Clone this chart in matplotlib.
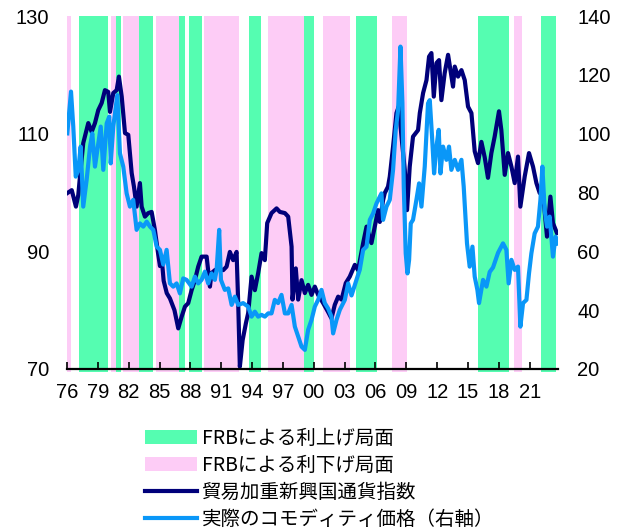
import matplotlib
matplotlib.use("Agg")
import matplotlib.pyplot as plt
from matplotlib.patches import Patch
from matplotlib.lines import Line2D

# Trade-weighted emerging-market currency index (left axis)
em_years = [1976.03, 1976.46, 1976.87, 1977.10, 1977.26, 1977.58, 1978.07, 1978.40, 1978.72,
            1979.04, 1979.37, 1979.69, 1980.01, 1980.18, 1980.50, 1980.83, 1981.05, 1981.32,
            1981.64, 1981.96, 1982.29, 1982.51, 1982.77, 1983.09, 1983.26, 1983.58, 1983.90,
            1984.23, 1984.55, 1984.87, 1985.04, 1985.20, 1985.40, 1985.70, 1986.01, 1986.45,
            1986.82, 1987.15, 1987.47, 1987.79, 1988.12, 1988.44, 1988.76, 1989.09, 1989.58,
            1989.90, 1990.06, 1990.38, 1990.70, 1991.19, 1991.52, 1991.84, 1992.16, 1992.49,
            1992.65, 1992.81, 1993.08, 1993.40, 1993.62, 1993.95, 1994.27, 1994.59, 1994.92,
            1995.24, 1995.47, 1995.89, 1996.38, 1996.70, 1997.19, 1997.51, 1997.84, 1997.93,
            1998.25, 1998.48, 1998.81, 1999.13, 1999.45, 1999.78, 2000.10, 2000.42, 2000.91,
            2001.39, 2001.72, 2002.04, 2002.37, 2002.70, 2003.11, 2003.50, 2003.99, 2004.31,
            2004.80, 2005.13, 2005.61, 2005.93, 2006.25, 2006.42, 2006.74, 2006.90, 2007.22,
            2007.39, 2007.71, 2008.04, 2008.26, 2008.53, 2008.85, 2009.07, 2009.33, 2009.65,
            2010.14, 2010.31, 2010.63, 2010.96, 2011.21, 2011.44, 2011.67, 2011.93, 2012.18,
            2012.41, 2012.73, 2013.06, 2013.29, 2013.54, 2013.71, 2014.03, 2014.36, 2014.68,
            2015.00, 2015.33, 2015.65, 2015.97, 2016.30, 2016.62, 2016.94, 2017.27, 2017.59,
            2018.01, 2018.24, 2018.57, 2018.89, 2019.22, 2019.54, 2019.86, 2020.09, 2020.51,
            2020.93, 2021.32, 2021.65, 2021.97, 2022.29, 2022.68, 2023.01, 2023.26, 2023.65]
em_index = [99.9, 100.4, 97.6, 99.6, 102.7, 108.4, 111.8, 110.3, 111.8,
            114.0, 115.2, 117.4, 117.1, 113.7, 116.9, 117.4, 119.7, 116.3,
            110.1, 109.8, 103.3, 101.0, 97.6, 101.6, 97.6, 95.9, 96.5,
            96.7, 93.6, 89.5, 87.5, 89.0, 85.0, 82.9, 82.0, 80.0,
            76.9, 78.9, 80.6, 81.2, 83.4, 85.1, 87.4, 89.1, 89.1,
            84.0, 86.3, 86.8, 87.1, 86.8, 87.4, 89.9, 88.5, 89.9,
            81.2, 70.4, 74.9, 77.8, 79.5, 85.7, 83.4, 86.3, 89.7,
            88.5, 94.8, 96.5, 97.3, 96.7, 96.5, 95.9, 90.8, 81.8,
            87.1, 81.8, 85.1, 82.9, 84.3, 82.6, 84.0, 82.6, 81.2,
            79.7, 78.6, 80.9, 82.3, 81.8, 84.6, 85.7, 87.7, 86.8,
            91.4, 94.2, 91.4, 94.2, 97.0, 95.0, 98.7, 99.9, 101.0,
            102.7, 107.8, 113.5, 114.6, 109.5, 103.8, 97.0, 104.4, 109.5,
            110.6, 113.5, 116.9, 119.1, 123.1, 123.7, 116.3, 122.0, 122.5,
            115.7, 120.3, 123.4, 120.8, 118.0, 121.4, 119.7, 120.8, 119.1,
            114.6, 113.5, 107.0, 105.0, 108.6, 106.0, 102.5, 106.7, 109.5,
            113.8, 110.6, 103.0, 106.7, 104.4, 101.6, 106.1, 97.6, 102.7,
            106.7, 104.4, 101.6, 99.9, 99.9, 92.5, 99.3, 94.8, 93.1]

# Real commodity price (right axis)
cmd_years = [1976.03, 1976.39, 1976.61, 1976.85, 1977.10, 1977.33, 1977.58, 1977.91, 1978.24,
             1978.46, 1978.72, 1979.04, 1979.28, 1979.53, 1979.86, 1980.11, 1980.25, 1980.50,
             1980.89, 1981.15, 1981.47, 1981.80, 1982.12, 1982.44, 1982.77, 1983.09, 1983.42,
             1983.75, 1984.07, 1984.39, 1984.72, 1985.04, 1985.36, 1985.69, 1986.01, 1986.33,
             1986.66, 1986.98, 1987.30, 1987.63, 1988.12, 1988.44, 1988.76, 1989.09, 1989.41,
             1989.73, 1990.06, 1990.38, 1990.55, 1990.80, 1990.97, 1991.35, 1991.68, 1992.01,
             1992.33, 1992.65, 1993.13, 1993.62, 1993.95, 1994.27, 1994.59, 1994.92, 1995.24,
             1995.56, 1995.89, 1996.21, 1996.53, 1996.86, 1997.19, 1997.51, 1997.84, 1998.16,
             1998.48, 1998.81, 1999.13, 1999.45, 1999.78, 2000.10, 2000.42, 2000.75, 2001.07,
             2001.39, 2001.72, 2001.88, 2002.21, 2002.53, 2003.02, 2003.34, 2003.67, 2004.15,
             2004.47, 2004.80, 2005.13, 2005.45, 2005.77, 2006.10, 2006.58, 2006.74, 2007.07,
             2007.39, 2007.71, 2007.97, 2008.20, 2008.43, 2008.62, 2008.75, 2008.94, 2009.11,
             2009.27, 2009.43, 2009.65, 2009.98, 2010.24, 2010.47, 2010.79, 2011.11, 2011.28,
             2011.50, 2011.70, 2011.93, 2012.15, 2012.32, 2012.57, 2012.90, 2013.15, 2013.38,
             2013.71, 2014.03, 2014.36, 2014.58, 2014.90, 2015.16, 2015.43, 2015.65, 2015.91,
             2016.07, 2016.46, 2016.79, 2017.11, 2017.43, 2017.92, 2018.40, 2018.73, 2018.95,
             2019.22, 2019.54, 2019.86, 2020.09, 2020.35, 2020.68, 2020.93, 2021.16, 2021.48,
             2021.80, 2022.04, 2022.23, 2022.45, 2022.68, 2022.94, 2023.26, 2023.52, 2023.75]
cmd_price = [100.1, 114.3, 102.4, 85.4, 87.7, 95.6, 75.2, 84.3, 95.6,
             100.1, 88.8, 96.7, 102.4, 87.7, 103.5, 105.8, 89.9, 102.4,
             113.1, 93.3, 88.8, 79.7, 75.2, 77.5, 67.3, 69.5, 68.4,
             70.1, 68.4, 67.3, 61.6, 60.5, 55.5, 60.5, 49.1, 48.0,
             49.1, 45.7, 50.8, 50.3, 48.0, 51.4, 49.1, 50.3, 53.1,
             49.1, 52.5, 50.3, 53.7, 67.3, 50.3, 46.9, 47.4, 41.8,
             44.6, 41.8, 42.4, 41.2, 37.8, 39.5, 37.8, 38.4, 37.8,
             38.9, 38.9, 43.5, 42.4, 45.2, 38.9, 38.9, 41.8, 34.4,
             31.0, 27.6, 26.5, 33.3, 36.7, 41.2, 43.5, 46.9, 42.4,
             40.6, 37.8, 32.1, 36.7, 40.1, 43.5, 49.1, 45.0, 50.3,
             53.7, 60.5, 61.6, 70.7, 72.9, 76.3, 79.7, 70.7, 75.2,
             77.5, 87.7, 101.3, 108.1, 129.6, 110.3, 82.0, 59.3, 52.5,
             57.1, 69.5, 70.7, 77.5, 83.1, 75.2, 88.8, 110.3, 111.4,
             99.0, 86.5, 95.6, 101.3, 86.5, 95.6, 91.1, 95.6, 87.7,
             91.1, 87.7, 91.1, 82.0, 62.7, 54.8, 61.6, 51.4, 46.9,
             42.4, 50.3, 48.0, 53.0, 54.5, 59.5, 62.7, 60.5, 49.1,
             57.1, 53.7, 54.8, 34.4, 42.4, 43.5, 52.5, 59.3, 66.1,
             68.4, 77.5, 88.8, 74.1, 68.4, 71.8, 58.2, 65.0, 62.7]

# Fed tightening / easing periods
hike_start = [1977.20, 1980.73, 1982.97, 1986.88, 1987.86, 1993.66, 1999.03, 2004.09, 2015.94, 2022.10]
hike_end = [1979.96, 1981.22, 1984.39, 1987.47, 1989.12, 1994.82, 2000.03, 2006.13, 2018.98, 2023.60]
cut_start = [1976.00, 1980.28, 1981.41, 1984.65, 1989.31, 1995.53, 2000.90, 2007.60, 2019.47]
cut_end = [1976.36, 1980.73, 1982.97, 1986.88, 1992.74, 1999.03, 2003.56, 2009.10, 2020.22]

x_ticks = [1976, 1979, 1982, 1985, 1988, 1991, 1994, 1997, 2000, 2003, 2006, 2009, 2012, 2015, 2018, 2021]
x_tick_labels = ["76", "79", "82", "85", "88", "91", "94", "97", "00", "03", "06", "09", "12", "15", "18", "21"]
left_ticks = [70, 90, 110, 130]
right_ticks = [20, 40, 60, 80, 100, 120, 140]

labels = ["FRBによる利上げ局面", "FRBによる利下げ局面", "貿易加重新興国通貨指数", "実際のコモディティ価格（右軸）"]

GREEN = "#55FDB1"
PINK = "#FDCCF6"
NAVY = "#00007A"
BLUE = "#0A97F8"

plt.rcParams["font.family"] = ["Liberation Sans", "Noto Sans CJK JP"]

fig = plt.figure(figsize=(6.17, 5.30), dpi=100)
ax = fig.add_axes([67 / 617, 1 - 369 / 530, (558 - 67) / 617, (369 - 16) / 530])
ax2 = ax.twinx()

for s, e in zip(hike_start, hike_end):
    ax.axvspan(s, e, ymin=-0.009, ymax=1, color=GREEN, lw=0, clip_on=False, zorder=0)
for s, e in zip(cut_start, cut_end):
    ax.axvspan(s, e, ymin=-0.009, ymax=1, color=PINK, lw=0, clip_on=False, zorder=0)

ax.plot(em_years, em_index, color=NAVY, lw=3.0, solid_joinstyle="round", zorder=3)
ax2.plot(cmd_years, cmd_price, color=BLUE, lw=3.0, solid_joinstyle="round", zorder=3)

ax.set_xlim(1976.0, 2023.75)
ax.set_ylim(70, 130)
ax2.set_ylim(20, 140)

ax.set_xticks(x_ticks)
ax.set_xticklabels(x_tick_labels)
ax.set_yticks(left_ticks)
ax2.set_yticks(right_ticks)

ax.tick_params(axis="x", direction="in", length=5, width=1.2, pad=10, labelsize=14.5, colors="black")
ax.tick_params(axis="y", length=0, pad=13, labelsize=14.5)
ax2.tick_params(axis="y", length=0, pad=14, labelsize=14.5)

for a in (ax, ax2):
    for side in ("left", "right", "top"):
        a.spines[side].set_visible(False)
ax2.spines["bottom"].set_visible(False)
ax.spines["bottom"].set_linewidth(1.6)
ax.spines["bottom"].set_zorder(5)

handles = [
    Patch(facecolor=GREEN, edgecolor="none"),
    Patch(facecolor=PINK, edgecolor="none"),
    Line2D([], [], color=NAVY, lw=3.0),
    Line2D([], [], color=BLUE, lw=3.0),
]
fig.legend(handles, labels, loc="upper left", bbox_to_anchor=(145 / 617, 1 - 428 / 530),
           frameon=False, prop={"family": ["Noto Sans CJK JP"], "size": 14},
           handlelength=2.65, handleheight=0.75, handletextpad=0.28, labelspacing=0.3,
           borderaxespad=0, borderpad=0)

fig.savefig("out.png", dpi=100)
